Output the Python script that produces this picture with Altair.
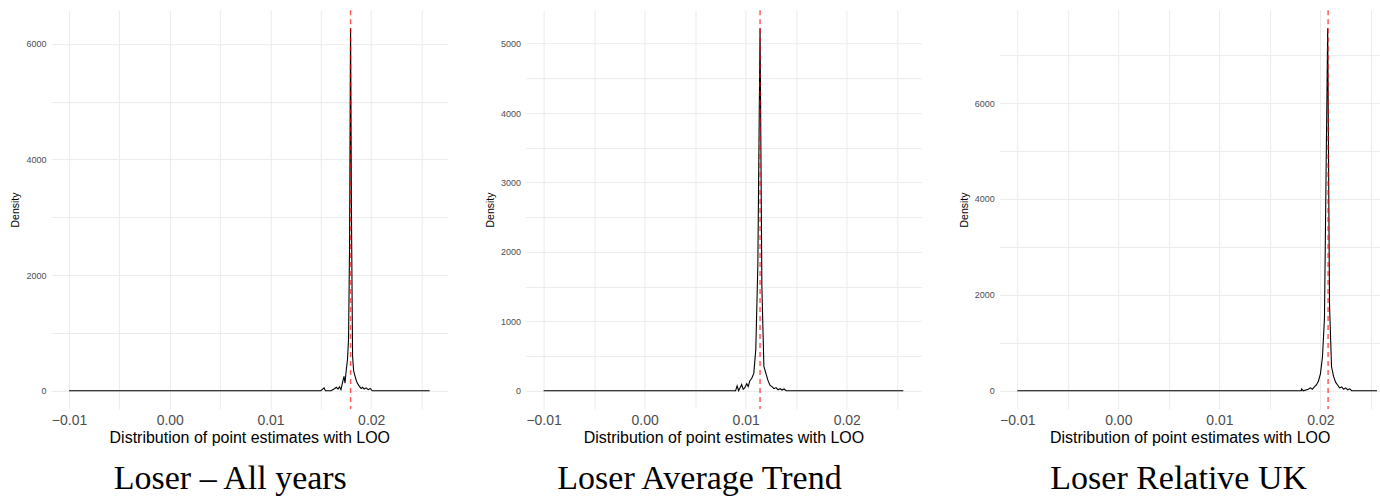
import altair as alt
import pandas as pd

# Density of leave-one-out point estimates, one curve per specification
all_years_x = [-0.010, 0.0150, 0.01532, 0.01545, 0.0160, 0.01635, 0.01655, 0.01670, 0.01685,
               0.01700, 0.01715, 0.01730, 0.01740, 0.01750, 0.01765, 0.01775, 0.01785, 0.01795,
               0.01805, 0.01815, 0.01825, 0.01840, 0.01855, 0.01870, 0.01885, 0.01900, 0.01915,
               0.01930, 0.01950, 0.01970, 0.01990, 0.02010, 0.0258]
all_years_d = [0, 0, 50, 0, 0, 35, 60, 30, 70,
               20, 140, 250, 130, 320, 550, 900, 2500, 6270,
               2800, 600, 350, 250, 160, 110, 70, 40, 60,
               30, 50, 20, 40, 0, 0]

avg_trend_x = [-0.010, 0.0090, 0.00915, 0.0093, 0.0096, 0.00975, 0.0099, 0.0101, 0.01025,
               0.0104, 0.0106, 0.0108, 0.0110, 0.0112, 0.01142, 0.0116, 0.0118, 0.0120,
               0.0122, 0.0124, 0.0126, 0.0128, 0.0130, 0.0132, 0.0134, 0.0136, 0.0138,
               0.0140, 0.0256]
avg_trend_d = [0, 0, 70, 0, 90, 20, 40, 100, 60,
               140, 180, 250, 600, 1800, 5220, 1500, 350, 250,
               150, 80, 60, 30, 45, 15, 30, 10, 25,
               0, 0]

rel_uk_x = [-0.010, 0.0181, 0.01815, 0.0183, 0.0188, 0.0190, 0.0192, 0.0194, 0.0196,
            0.0198, 0.0200, 0.0202, 0.0204, 0.02072, 0.0209, 0.0211, 0.0213, 0.0215,
            0.0217, 0.0219, 0.0221, 0.0223, 0.0225, 0.0227, 0.0229, 0.0231, 0.0256]
rel_uk_d = [0, 0, 40, 0, 30, 60, 30, 80, 120,
            200, 350, 700, 1500, 7560, 1800, 500, 300, 180,
            120, 60, 80, 30, 60, 20, 40, 0, 0]

# Full-sample estimates (dashed reference lines)
full_estimates = [0.01795, 0.01142, 0.02076]
panel_titles = ["Loser – All years", "Loser Average Trend", "Loser Relative UK"]

x_grid = [-0.01, -0.005, 0.0, 0.005, 0.01, 0.015, 0.02, 0.025]
y_grid_all_years = [0, 1000, 2000, 3000, 4000, 5000, 6000]
y_grid_avg_trend = [0, 500, 1000, 1500, 2000, 2500, 3000, 3500, 4000, 4500, 5000]
y_grid_rel_uk = [0, 1000, 2000, 3000, 4000, 5000, 6000, 7000]
y_label_steps = [2000, 1000, 2000]

X_TITLE = "Distribution of point estimates with LOO"


def density_panel(xs, ds, est, title, y_grid, step, width, title_dx, keep=1.0):
    df = pd.DataFrame({"x": xs, "density": ds})
    xr = max(xs) - min(xs)
    x_lo, x_hi = min(xs) - 0.05 * xr, max(xs) + 0.05 * xr
    x_hi = x_lo + keep * (x_hi - x_lo)
    ymax = max(ds)
    xscale = alt.Scale(domain=[x_lo, x_hi], nice=False, zero=False)
    yscale = alt.Scale(domain=[-0.05 * ymax, 1.05 * ymax], nice=False, zero=False)

    x_axis = alt.Axis(
        values=x_grid,
        labelExpr=(
            "abs(datum.value * 100 - round(datum.value * 100)) < 1e-6 ? "
            "replace(format(datum.value, '.2f'), '-', '\u2212') : ''"
        ),
        title=X_TITLE,
    )
    y_axis = alt.Axis(
        values=y_grid,
        labelExpr=f"datum.value % {step} == 0 ? format(datum.value, 'd') : ''",
        title="Density",
    )

    curve = alt.Chart(df).mark_line(color="black", strokeWidth=1.1, clip=True).encode(
        x=alt.X("x:Q", scale=xscale, axis=x_axis),
        y=alt.Y("density:Q", scale=yscale, axis=y_axis),
    )
    vline = alt.Chart(pd.DataFrame({"x": [est]})).mark_rule(
        color="red", strokeDash=[5, 4], strokeWidth=1.5, opacity=0.65
    ).encode(x=alt.X("x:Q", scale=xscale, axis=x_axis))

    return alt.layer(curve, vline).properties(
        width=width,
        height=399,
        title=alt.TitleParams(
            title, orient="bottom", anchor="middle", dx=title_dx, offset=16,
            font="Liberation Serif", fontSize=34, fontWeight="normal", color="black",
        ),
    )


p1 = density_panel(all_years_x, all_years_d, full_estimates[0], panel_titles[0],
                   y_grid_all_years, y_label_steps[0], 397, -19)
p2 = density_panel(avg_trend_x, avg_trend_d, full_estimates[1], panel_titles[1],
                   y_grid_avg_trend, y_label_steps[1], 396, -24)
p3 = density_panel(rel_uk_x, rel_uk_d, full_estimates[2], panel_titles[2],
                   y_grid_rel_uk, y_label_steps[2], 381, -11, keep=381 / 396)

chart = alt.hconcat(p1, p2, p3, spacing=78, bounds="flush").properties(
    padding={"left": 10, "top": 9, "right": 0, "bottom": 0}
).configure_view(stroke=None).configure_axis(
    domain=False,
    ticks=False,
    grid=True,
    gridColor="#ebebeb",
    gridWidth=1,
    labelFont="Liberation Sans",
    titleFont="Liberation Sans",
    labelColor="#4d4d4d",
    titleColor="black",
    titleFontWeight="normal",
).configure_axisX(
    labelFontSize=14, labelPadding=5, titleFontSize=16, titlePadding=2,
).configure_axisY(
    labelFontSize=9, labelPadding=5, titleFontSize=10.5, titlePadding=5,
)

chart.save("out.html", embed_options={"renderer": "svg", "actions": False})
